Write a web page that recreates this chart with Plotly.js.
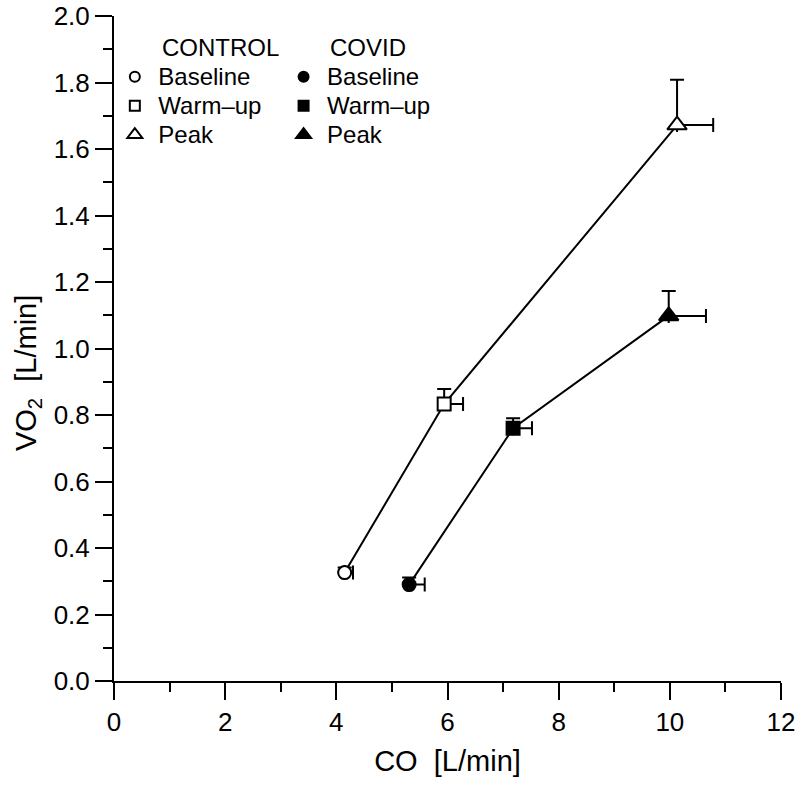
<!DOCTYPE html>
<html>
<head>
<meta charset="utf-8">
<script src="https://cdn.plot.ly/plotly-3.0.1.min.js"></script>
<style>html,body{margin:0;padding:0;background:#fff;}#chart{width:798px;height:790px;}</style>
</head>
<body>
<div id="chart"></div>
<script>
// Data
const phases = ['Baseline', 'Warm\u2013up', 'Peak'];
const controlCO = [4.15, 5.94, 10.13];
const controlVO2 = [0.326, 0.833, 1.672];
const controlCOerr = [0.15, 0.34, 0.65];
const controlVO2err = [0.015, 0.045, 0.136];
const covidCO = [5.31, 7.18, 9.98];
const covidVO2 = [0.29, 0.76, 1.098];
const covidCOerr = [0.28, 0.34, 0.67];
const covidVO2err = [0.021, 0.03, 0.075];
const xTicks = [0, 2, 4, 6, 8, 10, 12];
const yTicks = [0, 0.2, 0.4, 0.6, 0.8, 1.0, 1.2, 1.4, 1.6, 1.8, 2.0];
const symbols = ['circle', 'square', 'triangle-up'];
const markerSizes = [13, 13, 17];
const legendSizes = [10, 10, 13];

const FONT = '"Liberation Sans", Arial, Helvetica, sans-serif';

function lineTrace(x, y, ex, ey) {
  return {
    x: x, y: y, type: 'scatter', mode: 'lines', showlegend: false,
    line: {color: '#000', width: 2},
    error_x: {type: 'data', symmetric: false, array: ex, arrayminus: ex.map(() => 0), color: '#000', thickness: 2, width: 7},
    error_y: {type: 'data', symmetric: false, array: ey, arrayminus: ey.map(() => 0), color: '#000', thickness: 2, width: 7}
  };
}
function markerTrace(x, y, fill) {
  return {
    x: x, y: y, type: 'scatter', mode: 'markers', showlegend: false,
    marker: {symbol: symbols, size: markerSizes, color: fill, opacity: 1, line: {color: '#000', width: 2}}
  };
}

const traces = [
  lineTrace(controlCO, controlVO2, controlCOerr, controlVO2err),
  lineTrace(covidCO, covidVO2, covidCOerr, covidVO2err),
  markerTrace(controlCO, controlVO2, '#fff'),
  markerTrace(covidCO, covidVO2, '#000')
];

const big = s => '<span style="font-size:24px">' + s + '</span>';
phases.forEach((p, i) => {
  traces.push({
    x: [null], y: [null], type: 'scatter', mode: 'markers', name: big(p), legend: 'legend',
    marker: {symbol: symbols[i], size: legendSizes[i], color: '#fff', line: {color: '#000', width: 2}}
  });
});
phases.forEach((p, i) => {
  traces.push({
    x: [null], y: [null], type: 'scatter', mode: 'markers', name: big(p), legend: 'legend2',
    marker: {symbol: symbols[i], size: legendSizes[i], color: '#000', line: {color: '#000', width: 2}}
  });
});

const legendBase = {
  font: {family: FONT, size: 20, color: '#000'},
  bgcolor: 'rgba(0,0,0,0)', borderwidth: 0,
  xanchor: 'left', yanchor: 'top', itemsizing: 'trace', tracegroupgap: 0, itemwidth: 37
};

const layout = {
  width: 798, height: 790,
  margin: {l: 114, r: 17, t: 16, b: 109},
  paper_bgcolor: '#fff', plot_bgcolor: '#fff',
  font: {family: FONT, color: '#000'},
  showlegend: true,
  legend: Object.assign({}, legendBase, {x: -0.004, y: 0.938}),
  legend2: Object.assign({}, legendBase, {x: 0.249, y: 0.938}),
  xaxis: {
    range: [0, 12], tickvals: xTicks, ticktext: xTicks.map(String),
    showgrid: false, zeroline: false, showline: true, linecolor: '#000', linewidth: 2,
    ticks: 'outside', ticklen: 17, tickwidth: 2, tickcolor: '#000',
    tickfont: {family: FONT, size: 26, color: '#000'},
    minor: {dtick: 1, ticks: 'outside', ticklen: 9, tickwidth: 2, tickcolor: '#000', showgrid: false},
    title: {text: 'CO\u00a0\u00a0[L/min]', font: {family: FONT, size: 29, color: '#000'}, standoff: 14},
    fixedrange: true
  },
  yaxis: {
    range: [0, 2], tickvals: yTicks, ticktext: yTicks.map(v => v.toFixed(1)),
    showgrid: false, zeroline: false, showline: true, linecolor: '#000', linewidth: 2,
    ticks: 'outside', ticklen: 17, tickwidth: 2, tickcolor: '#000',
    tickfont: {family: FONT, size: 26, color: '#000'},
    minor: {dtick: 0.1, ticks: 'outside', ticklen: 9, tickwidth: 2, tickcolor: '#000', showgrid: false},
    fixedrange: true
  },
  annotations: [
    {text: 'VO<sub>2</sub>\u00a0\u00a0[L/min]', textangle: -90, xref: 'paper', yref: 'paper', x: -0.129, y: 0.463, xanchor: 'center', yanchor: 'middle', showarrow: false, font: {family: FONT, size: 29, color: '#000'}},
    {text: 'CONTROL', xref: 'paper', yref: 'paper', x: 0.069, y: 0.953, xanchor: 'left', yanchor: 'middle', showarrow: false, font: {family: FONT, size: 24, color: '#000'}},
    {text: 'COVID', xref: 'paper', yref: 'paper', x: 0.321, y: 0.953, xanchor: 'left', yanchor: 'middle', showarrow: false, font: {family: FONT, size: 24, color: '#000'}}
  ]
};

Plotly.newPlot('chart', traces, layout, {displayModeBar: false, staticPlot: true});
</script>
</body>
</html>
